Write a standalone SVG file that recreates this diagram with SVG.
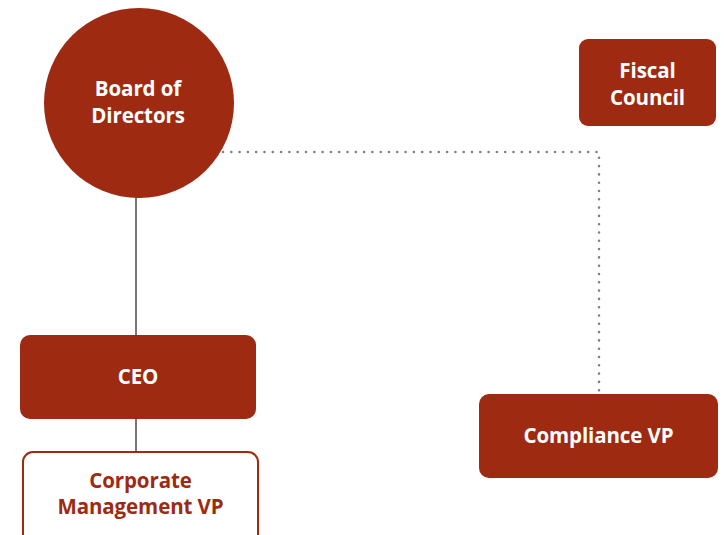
<svg xmlns="http://www.w3.org/2000/svg" width="724" height="535" viewBox="0 0 724 535">
  <style>
    .solid { fill: #9E2A12; }
    .outline { fill: #FFFFFF; stroke: #9E2A12; stroke-width: 2; }
    .lbl { font-family: "Open Sans", "Liberation Sans", sans-serif; font-weight: 700; font-size: 20.5px; text-anchor: middle; letter-spacing: -0.1px; }
    .light { fill: #FFFFFF; }
    .dark { fill: #9E2A12; }
    .link { stroke: #777777; stroke-width: 2; fill: none; }
    .dotted { stroke: #808080; stroke-width: 2.6; fill: none; stroke-linecap: round; stroke-dasharray: 0 8.3; }
  </style>
  <rect width="724" height="535" fill="#FFFFFF"/>

  <g id="connectors">
    <line class="link" x1="136" y1="196" x2="136" y2="336"/>
    <line class="link" x1="136" y1="418" x2="136" y2="452"/>
    <polyline class="dotted" points="223,152 599,152 599,392"/>
  </g>

  <g id="board">
    <circle class="solid" cx="139" cy="103" r="95"/>
    <text class="lbl light" x="138" y="96">Board of</text>
    <text class="lbl light" x="138" y="123">Directors</text>
  </g>

  <g id="fiscal">
    <rect class="solid" x="579" y="39" width="137" height="87" rx="9"/>
    <text class="lbl light" x="647.5" y="78">Fiscal</text>
    <text class="lbl light" x="647.5" y="105">Council</text>
  </g>

  <g id="ceo">
    <rect class="solid" x="20" y="335" width="236" height="84" rx="10"/>
    <text class="lbl light" x="138" y="384">CEO</text>
  </g>

  <g id="corporate">
    <rect class="outline" x="23" y="452" width="235" height="100" rx="10"/>
    <text class="lbl dark" x="140.5" y="488">Corporate</text>
    <text class="lbl dark" x="140.5" y="514">Management VP</text>
  </g>

  <g id="compliance">
    <rect class="solid" x="479" y="394" width="239" height="84" rx="10"/>
    <text class="lbl light" x="598.5" y="443">Compliance VP</text>
  </g>
</svg>
